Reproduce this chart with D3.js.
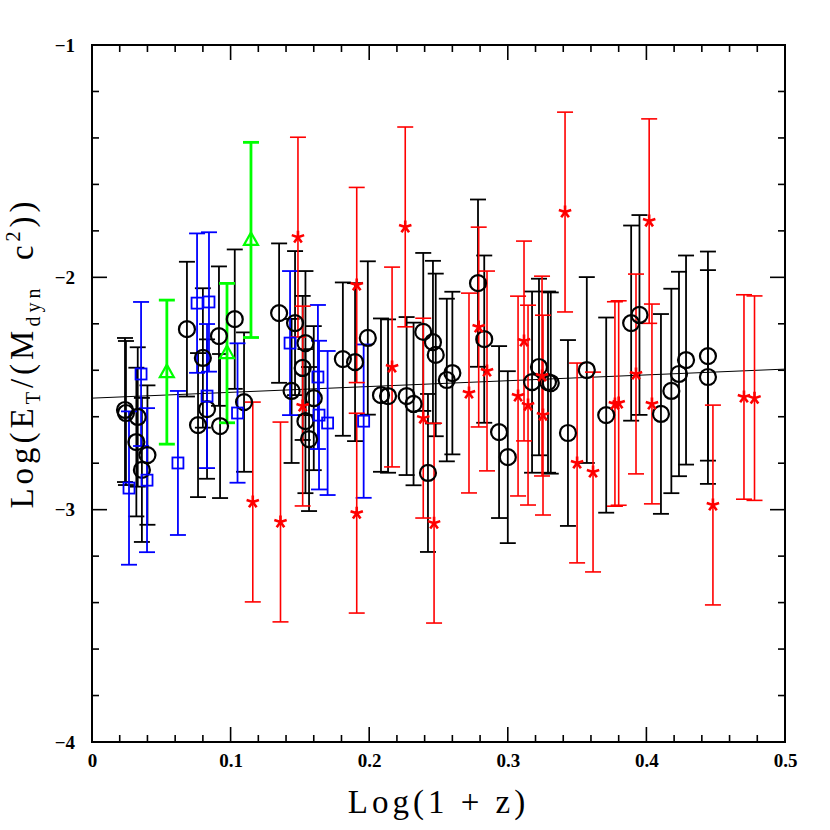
<!DOCTYPE html>
<html>
<head>
<meta charset="utf-8">
<script src="https://cdn.jsdelivr.net/npm/d3@7"></script>
<style>
  body { margin: 0; background: #fff; }
  .tick-label { font-family: "Liberation Serif", serif; font-weight: bold; font-size: 19px; }
  .axis-title { font-family: "Liberation Serif", serif; font-size: 33px; white-space: pre; letter-spacing: 4px; }
</style>
</head>
<body>
<div class="chart_wrapper"></div>
<script>

// black circles: log(1+z), value, error
const circX = [0.0238,0.0245,0.033,0.032,0.036,0.040,0.0685,0.080,0.0765,0.083,0.0916,0.0924,0.103,0.1097,
  0.135,0.1465,0.154,0.152,0.144,0.160,0.154,0.1566,0.181,0.1898,0.199,0.2085,0.2136,0.227,0.232,0.239,0.246,0.248,0.2424,
  0.256,0.260,0.2785,0.283,0.2937,0.300,0.3175,0.3225,0.329,0.331,0.3434,0.357,0.371,
  0.389,0.395,0.4105,0.418,0.4235,0.4286,0.4444,0.4444]
const circY = [-2.571,-2.584,-2.601,-2.709,-2.829,-2.765,-2.223,-2.347,-2.636,-2.567,-2.253,-2.640,-2.180,-2.537,
  -2.154,-2.197,-2.283,-2.390,-2.489,-2.520,-2.619,-2.696,-2.352,-2.365,-2.261,-2.507,-2.511,-2.511,-2.545,-2.235,-2.279,-2.334,-2.842,
  -2.442,-2.412,-2.025,-2.266,-2.666,-2.774,-2.451,-2.386,-2.451,-2.455,-2.670,-2.399,-2.593,
  -2.197,-2.162,-2.588,-2.489,-2.416,-2.356,-2.339,-2.429]
const circE = [0.31,0.31,0.30,0.32,0.31,0.30,0.29,0.30,0.31,0.30,0.30,0.31,0.30,0.30,
  0.30,0.31,0.31,0.31,0.31,0.31,0.31,0.31,0.33,0.34,0.33,0.33,0.33,0.34,0.35,0.34,0.35,0.35,0.34,
  0.35,0.35,0.36,0.36,0.37,0.37,0.39,0.38,0.39,0.39,0.40,0.40,0.42,
  0.42,0.43,0.43,0.44,0.44,0.45,0.45,0.46]

// blue squares
const sqX = [0.0354,0.0267,0.0397,0.062,0.0758,0.0844,0.083,0.105,0.1429,0.163,0.1638,0.170,0.196]
const sqY = [-2.416,-2.907,-2.873,-2.799,-2.111,-2.106,-2.511,-2.584,-2.283,-2.429,-2.593,-2.627,-2.619]
const sqE = [0.31,0.33,0.31,0.31,0.30,0.30,0.31,0.30,0.31,0.31,0.32,0.31,0.33]

// green triangles
const triX = [0.054,0.0974,0.1147]
const triY = [-2.408,-2.326,-1.839]
const triE = [0.31,0.30,0.42]

// red stars
const starX = [0.116,0.136,0.1486,0.152,0.191,0.191,0.2165,0.226,0.239,0.2468,0.272,0.279,0.285,0.3074,0.3117,
  0.3146,0.3247,0.3254,0.3413,0.350,0.3615,0.3773,0.380,0.3925,0.402,0.404,0.448,0.4704,0.478]
const starY = [-2.967,-3.053,-1.827,-2.554,-2.033,-3.015,-2.386,-1.783,-2.606,-3.058,-2.498,-2.214,-2.403,-2.511,-2.274,
  -2.550,-2.425,-2.593,-1.719,-2.799,-2.838,-2.545,-2.541,-2.416,-1.758,-2.545,-2.980,-2.515,-2.520]
const starE = [0.43,0.43,0.43,0.43,0.42,0.43,0.43,0.43,0.43,0.43,0.43,0.43,0.43,0.43,0.43,
  0.43,0.43,0.43,0.43,0.43,0.43,0.44,0.44,0.43,0.44,0.43,0.43,0.44,0.44]

// fitted line
const fitX = [0, 0.5]
const fitY = [-2.52, -2.395]

const xTicks = [0, 0.1, 0.2, 0.3, 0.4, 0.5]
const yTicks = [-1, -2, -3, -4]


let dimensions = {
  width: 830,
  height: 830,
  margin: { top: 45, right: 45, bottom: 88, left: 92 },
}
dimensions.boundedWidth = dimensions.width - dimensions.margin.left - dimensions.margin.right
dimensions.boundedHeight = dimensions.height - dimensions.margin.top - dimensions.margin.bottom

const wrapper = d3.select(".chart_wrapper")
  .append("svg")
  .attr("width", dimensions.width)
  .attr("height", dimensions.height)

const bounds = wrapper.append("g")
  .attr("transform", `translate(${dimensions.margin.left},${dimensions.margin.top})`)

const xScale = d3.scaleLinear().domain([0, 0.5]).range([0, dimensions.boundedWidth])
const yScale = d3.scaleLinear().domain([-4, -1]).range([dimensions.boundedHeight, 0])

const W = dimensions.boundedWidth, H = dimensions.boundedHeight

// frame
bounds.append("rect")
  .attr("width", W).attr("height", H)
  .attr("fill", "none").attr("stroke", "#000").attr("stroke-width", 2)

// ticks (inside, all four sides)
const xMinor = d3.range(0, 0.5001, 0.02)
const yMinor = d3.range(-4, -0.999, 0.2)
const isMajor = (v, step) => Math.abs(v / step - Math.round(v / step)) < 1e-6

const tickG = bounds.append("g").attr("stroke", "#000").attr("stroke-width", 1.6)
xMinor.forEach(v => {
  const len = isMajor(v, 0.1) ? 15 : 7
  const x = xScale(v)
  tickG.append("line").attr("x1", x).attr("x2", x).attr("y1", H).attr("y2", H - len)
  tickG.append("line").attr("x1", x).attr("x2", x).attr("y1", 0).attr("y2", len)
})
yMinor.forEach(v => {
  const len = isMajor(v, 1) ? 15 : 7
  const y = yScale(v)
  tickG.append("line").attr("x1", 0).attr("x2", len).attr("y1", y).attr("y2", y)
  tickG.append("line").attr("x1", W).attr("x2", W - len).attr("y1", y).attr("y2", y)
})

// tick labels
const xAxis = d3.axisBottom(xScale).tickValues(xTicks).tickSize(0).tickPadding(12)
  .tickFormat(d => d === 0 ? "0" : d3.format(".1f")(d))
const xg = bounds.append("g").attr("transform", `translate(0,${H})`).call(xAxis)
xg.select(".domain").remove()
xg.selectAll("text").attr("class", "tick-label").attr("fill", "#000")

const yAxis = d3.axisLeft(yScale).tickValues(yTicks).tickSize(0).tickPadding(17)
  .tickFormat(d => "\u2212" + Math.abs(d))
const yg = bounds.append("g").call(yAxis)
yg.select(".domain").remove()
yg.selectAll("text").attr("class", "tick-label").attr("fill", "#000")

// axis titles
wrapper.append("text")
  .attr("class", "axis-title")
  .attr("x", dimensions.margin.left + W / 2)
  .attr("y", 813)
  .attr("text-anchor", "middle")
  .text("Log(1 + z)")

const yTitle = wrapper.append("text")
  .attr("class", "axis-title")
  .attr("transform", `translate(33,353) rotate(-90)`)
  .attr("text-anchor", "middle")
yTitle.append("tspan").text("Log(E")
yTitle.append("tspan").attr("font-size", "20px").attr("dy", 7).text("T")
yTitle.append("tspan").attr("dy", -7).text("/(M")
yTitle.append("tspan").attr("font-size", "20px").attr("dy", 7).text("dyn")
yTitle.append("tspan").attr("dy", -7).text("  c")
yTitle.append("tspan").attr("font-size", "20px").attr("dy", -13).text("2")
yTitle.append("tspan").attr("dy", 13).text("))")

const plot = bounds.append("g")

// fitted line
plot.append("line")
  .attr("x1", xScale(fitX[0])).attr("y1", yScale(fitY[0]))
  .attr("x2", xScale(fitX[1])).attr("y2", yScale(fitY[1]))
  .attr("stroke", "#000").attr("stroke-width", 1)

function errorBars(xs, ys, es, color, width, cap) {
  const g = plot.append("g").attr("stroke", color).attr("stroke-width", width)
  xs.forEach((x, i) => {
    const px = xScale(x)
    const top = yScale(Math.min(ys[i] + es[i], -1))
    const bot = yScale(Math.max(ys[i] - es[i], -4))
    g.append("line").attr("x1", px).attr("x2", px).attr("y1", top).attr("y2", bot)
    if (ys[i] + es[i] < -1) g.append("line").attr("x1", px - cap).attr("x2", px + cap).attr("y1", top).attr("y2", top)
    if (ys[i] - es[i] > -4) g.append("line").attr("x1", px - cap).attr("x2", px + cap).attr("y1", bot).attr("y2", bot)
  })
}

errorBars(circX, circY, circE, "#000", 1.8, 8)
errorBars(sqX, sqY, sqE, "#0000ff", 1.8, 8)
errorBars(starX, starY, starE, "#ff0000", 1.6, 8)
errorBars(triX, triY, triE, "#00ff00", 2.8, 8)

// markers
plot.append("g").selectAll("circle")
  .data(circX.map((x, i) => ({ x, y: circY[i] })))
  .join("circle")
  .attr("cx", d => xScale(d.x)).attr("cy", d => yScale(d.y))
  .attr("r", 8)
  .attr("fill", "none").attr("stroke", "#000").attr("stroke-width", 2.2)

plot.append("g").selectAll("rect")
  .data(sqX.map((x, i) => ({ x, y: sqY[i] })))
  .join("rect")
  .attr("x", d => xScale(d.x) - 5.5).attr("y", d => yScale(d.y) - 5.5)
  .attr("width", 11).attr("height", 11)
  .attr("fill", "none").attr("stroke", "#0000ff").attr("stroke-width", 1.8)

plot.append("g").selectAll("path")
  .data(triX.map((x, i) => ({ x, y: triY[i] })))
  .join("path")
  .attr("transform", d => `translate(${xScale(d.x)},${yScale(d.y)})`)
  .attr("d", "M0,-7.5L7,5L-7,5Z")
  .attr("fill", "none").attr("stroke", "#00ff00").attr("stroke-width", 2.2)

// five-armed asterisk
const starPath = (() => {
  const r = 6.5, p = []
  for (let k = 0; k < 5; k++) {
    const a = -Math.PI / 2 + k * 2 * Math.PI / 5
    p.push(`M0,0L${(r * Math.cos(a)).toFixed(2)},${(r * Math.sin(a)).toFixed(2)}`)
  }
  return p.join("")
})()

plot.append("g").selectAll("path")
  .data(starX.map((x, i) => ({ x, y: starY[i] })))
  .join("path")
  .attr("transform", d => `translate(${xScale(d.x)},${yScale(d.y)})`)
  .attr("d", starPath)
  .attr("fill", "none").attr("stroke", "#ff0000").attr("stroke-width", 2.6)

</script>
</body>
</html>
